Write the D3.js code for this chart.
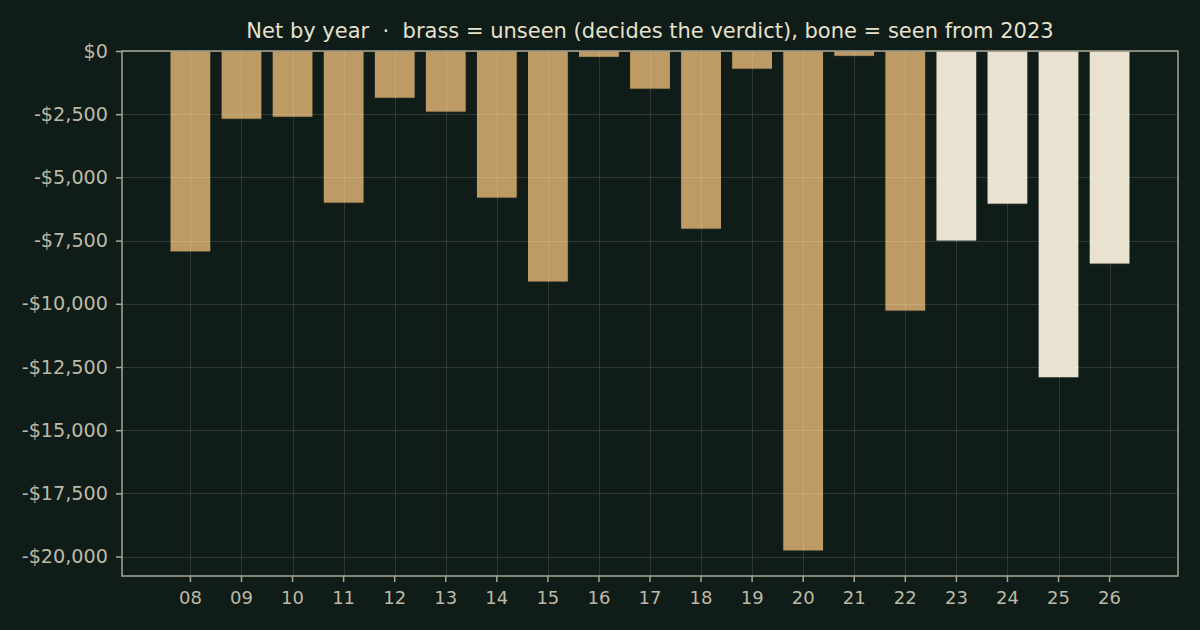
<!DOCTYPE html>
<html><head><meta charset="utf-8">
<script src="https://cdn.jsdelivr.net/npm/d3@7"></script>
<style>html,body{margin:0;padding:0;background:#0f1c17;}svg{display:block;}text{white-space:pre;}</style>
</head><body>
<svg id="c" width="1200" height="630"></svg>
<script>
const years = ["08","09","10","11","12","13","14","15","16","17","18","19","20","21","22","23","24","25","26"];
const netValues = [-7950,-2700,-2620,-6020,-1870,-2420,-5820,-9140,-250,-1510,-7050,-720,-19780,-210,-10290,-7520,-6060,-12930,-8430];
const seenFlags = [0,0,0,0,0,0,0,0,0,0,0,0,0,0,0,1,1,1,1];
const yTicks = [0,-2500,-5000,-7500,-10000,-12500,-15000,-17500,-20000];
const titleText = "Net by year  \u00b7  brass = unseen (decides the verdict), bone = seen from 2023";

const W=1200,H=630, L=122, R=1178, T=51, B=576;
const bg="#0f1c17", brass="#be9b64", bone="#e9e2d1", spine="#a9a695", tickCol="#bdb9a6", titleCol="#e7e1cd";
const svg=d3.select("#c");
svg.append("rect").attr("width",W).attr("height",H).attr("fill",bg);

const x=d3.scaleBand().domain(years).range([L,R]).paddingInner(0.2).paddingOuter(0.94);
const y=d3.scaleLinear().domain([d3.min(netValues)*1.05,0]).range([B,T]);
const fmt=v=> (v<0?"-":"")+"$"+d3.format(",")(Math.abs(v));

// bars
svg.append("g").selectAll("rect").data(years).join("rect")
  .attr("x",d=>x(d)).attr("width",x.bandwidth())
  .attr("y",(d,i)=>y(0)).attr("height",(d,i)=>y(netValues[i])-y(0))
  .attr("fill",(d,i)=>seenFlags[i]?bone:brass)
  .attr("stroke",bg).attr("stroke-width",1);

// grid on top
const g=svg.append("g").attr("stroke","#ffffff").attr("stroke-opacity",0.13).attr("stroke-width",1);
g.selectAll(".h").data(yTicks).join("line").attr("x1",L).attr("x2",R)
  .attr("y1",d=>Math.round(y(d))+0.5).attr("y2",d=>Math.round(y(d))+0.5);
g.selectAll(".v").data(years).join("line").attr("y1",T).attr("y2",B)
  .attr("x1",d=>Math.round(x(d)+x.bandwidth()/2)+0.5).attr("x2",d=>Math.round(x(d)+x.bandwidth()/2)+0.5);

// axes
const yAxis=d3.axisLeft(y).tickValues(yTicks).tickFormat(fmt).tickSize(6).tickPadding(8);
const ya=svg.append("g").attr("transform",`translate(${L},0)`).call(yAxis);
const xAxis=d3.axisBottom(x).tickSize(6).tickPadding(9);
const xa=svg.append("g").attr("transform",`translate(0,${B})`).call(xAxis);
[ya,xa].forEach(a=>{
  a.select(".domain").remove();
  a.selectAll("line").attr("stroke",spine).attr("stroke-width",1.5);
  a.selectAll("text").attr("fill",tickCol).attr("font-family","DejaVu Sans").attr("font-size",18);
});
ya.selectAll("text").attr("font-size",19.2);

// frame
svg.append("rect").attr("x",L).attr("y",T).attr("width",R-L).attr("height",B-T)
  .attr("fill","none").attr("stroke",spine).attr("stroke-width",1.5);

svg.append("text").attr("x",(L+R)/2).attr("y",38).attr("text-anchor","middle")
  .attr("fill",titleCol).attr("font-family","DejaVu Sans").attr("font-size",21)
  .attr("xml:space","preserve").text(titleText);
</script>
</body></html>
